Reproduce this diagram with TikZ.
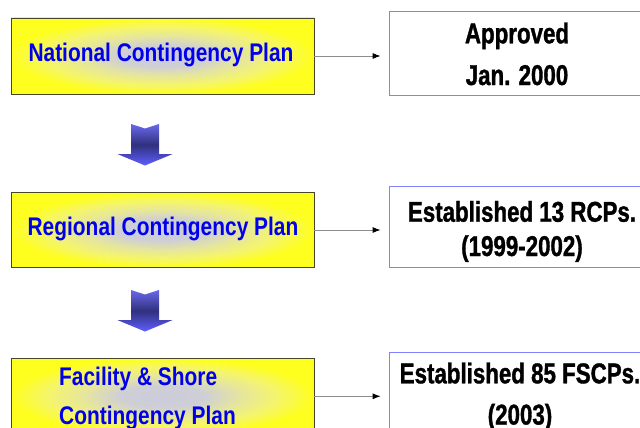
\documentclass[tikz,border=0pt]{standalone}
\usepackage{fontspec}
\setmainfont{Liberation Sans}
\newfontfamily\blackfont[FakeStretch=0.78,BoldFeatures={FakeBold=1.2}]{Liberation Sans}
\newfontfamily\bluefont[FakeStretch=0.82]{Liberation Sans}
\usetikzlibrary{arrows.meta}
\pgfdeclareradialshading{boxglow}{\pgfpoint{0bp}{0bp}}{rgb(0bp)=(0.80,0.80,0.86); rgb(7bp)=(0.81,0.81,0.84); rgb(13bp)=(0.90,0.90,0.62); rgb(19bp)=(0.96,0.96,0.42); rgb(25bp)=(1,1,0.12); rgb(50bp)=(1,1,0.12)}
\definecolor{boxedge}{RGB}{70,70,40}
\definecolor{infoedge}{RGB}{130,130,255}
\definecolor{plantext}{RGB}{0,0,235}
\definecolor{connline}{RGB}{140,140,140}
\definecolor{arrtop}{RGB}{105,105,235}
\definecolor{arrmid}{RGB}{48,48,125}
\definecolor{arrbot}{RGB}{95,95,255}
\begin{document}
\begin{tikzpicture}[x=1pt,y=-1pt,
  planbox/.style={draw=boxedge, line width=0.8pt, minimum width=303pt, inner sep=0pt,
    path picture={\shade[shading=boxglow] (path picture bounding box.south west) rectangle (path picture bounding box.north east);}},
  infobox/.style={draw=infoedge, line width=0.8pt, fill=white, minimum width=260pt, inner sep=0pt},
  plantxt/.style={font=\bluefont\bfseries\fontsize{25.5}{30}\selectfont, text=plantext, inner sep=0pt},
  infotxt/.style={font=\blackfont\bfseries\fontsize{28.6}{34}\selectfont, text=black, inner sep=0pt},
  conn/.style={draw=connline, line width=0.8pt, -{Latex[black,length=8pt,width=6pt]}, shorten >=8pt},
  blockarr/.style={top color=arrtop, bottom color=arrbot, middle color=arrmid}
]
\useasboundingbox (0,0) rectangle (640,428);

% left plan boxes
\node[planbox, minimum height=76pt] (nat) at (162.5,56) {};
\node[planbox, minimum height=75.5pt] (reg) at (162.5,230) {};
\node[planbox, minimum height=76pt] (fac) at (162.5,396.3) {};

% right info boxes
\node[infobox, minimum height=83.3pt] (natr) at (519,53.3) {};
\node[infobox, minimum height=81.3pt] (regr) at (519,226.7) {};
\node[infobox, minimum height=83pt] (facr) at (519,393.8) {};

% texts
\node[plantxt, anchor=base] (natT) at (161,61.7) {National Contingency Plan};
\node[plantxt, anchor=base] (regT) at (163,235) {Regional Contingency Plan};
\node[plantxt, anchor=base west] (facT1) at (59,385.7) {Facility \& Shore};
\node[plantxt, anchor=base west] (facT2) at (59,424) {Contingency Plan};

\node[infotxt, anchor=base] (appT) at (517,43.3) {Approved};
\node[infotxt, anchor=base] (janT) at (517,85) {Jan. 2000};
\node[infotxt, anchor=base] (estA) at (522,221.7) {Established 13 RCPs.};
\node[infotxt, anchor=base] (yrsA) at (522,256) {(1999-2002)};
\node[infotxt, anchor=base] (estB) at (520,383.3) {Established 85 FSCPs.};
\node[infotxt, anchor=base] (yrsB) at (520,424.5) {(2003)};

% connectors
\draw[conn] (nat.east) -- (nat.east -| natr.west);
\draw[conn] (reg.east) -- (reg.east -| regr.west);
\draw[conn] (fac.east) -- (fac.east -| facr.west);

% block arrows between plan levels
\coordinate (d1) at (145,124);
\coordinate (d2) at (145,290);
\foreach \c in {d1,d2}{
  \shade[blockarr, shift={(\c)}] (-14,0) -- (0,4.5) -- (14,0) -- (14,30) -- (27.7,30) -- (0,41.5) -- (-27.7,30) -- (-14,30) -- cycle;
}
\end{tikzpicture}
\end{document}
